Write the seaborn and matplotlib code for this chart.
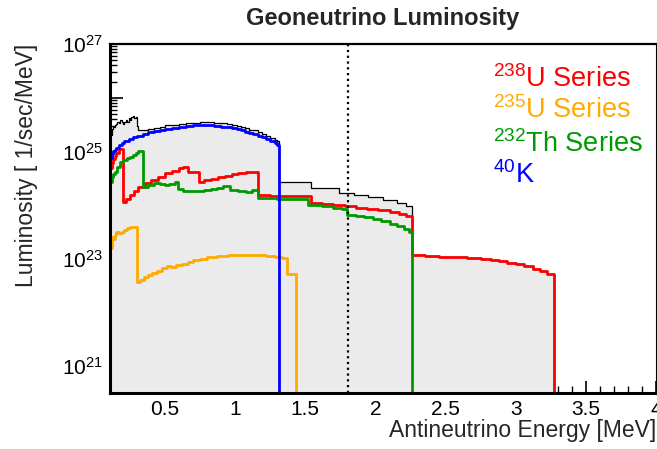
import numpy as np
import pandas as pd
import matplotlib
matplotlib.use('Agg')
import matplotlib.pyplot as plt
from matplotlib.ticker import MultipleLocator, LogLocator, FuncFormatter, NullFormatter
import seaborn as sns

# energies (MeV) are left bin edges, the last entry closes the spectrum
e_u238 = [0.11, 0.12, 0.13, 0.14, 0.15, 0.17, 0.20, 0.22, 0.25, 0.28, 0.31, 0.36, 0.40, 0.45,
          0.50, 0.55, 0.60, 0.63, 0.66, 0.74, 0.78, 0.83, 0.88, 0.93, 0.98, 1.02, 1.08, 1.12,
          1.16, 1.25, 1.35, 1.45, 1.54, 1.62, 1.70, 1.78, 1.86, 1.94, 2.02, 2.10, 2.17, 2.22,
          2.26, 2.35, 2.45, 2.55, 2.65, 2.75, 2.82, 2.88, 2.94, 3.00, 3.06, 3.12, 3.17, 3.22,
          3.27]
l_u238 = [5.0e24, 6.0e24, 7.1e24, 8.2e24, 9.5e24, 1.12e25, 1.15e24, 1.3e24, 1.55e24, 1.85e24,
          2.2e24, 2.6e24, 2.9e24, 3.3e24, 3.9e24, 4.4e24, 4.8e24, 5.1e24, 4.2e24, 2.7e24,
          2.9e24, 3.1e24, 3.3e24, 3.5e24, 3.8e24, 4.0e24, 4.2e24, 4.2e24, 1.55e24, 1.5e24,
          1.48e24, 1.45e24, 1.1e24, 1.05e24, 1.0e24, 9.5e23, 9.0e23, 8.6e23, 8.0e23, 7.4e23,
          6.8e23, 6.3e23, 1.17e23, 1.13e23, 1.1e23, 1.07e23, 1.05e23, 1.0e23, 9.6e22, 9.0e22,
          8.5e22, 7.9e22, 7.2e22, 6.5e22, 5.9e22, 5.2e22, 1e18]

e_u235 = [0.11, 0.12, 0.13, 0.14, 0.15, 0.17, 0.19, 0.21, 0.23, 0.25, 0.30, 0.32, 0.35, 0.38,
          0.41, 0.44, 0.48, 0.51, 0.54, 0.58, 0.62, 0.66, 0.70, 0.75, 0.80, 0.87, 0.95, 1.05,
          1.15, 1.22, 1.28, 1.33, 1.37, 1.43]
l_u235 = [1.6e23, 2.5e23, 2.3e23, 2.8e23, 3.2e23, 3.0e23, 3.1e23, 3.5e23, 3.7e23, 3.9e23,
          3.7e22, 4.0e22, 4.5e22, 5.0e22, 5.5e22, 6.0e22, 6.7e22, 7.4e22, 7.0e22, 7.5e22,
          8.1e22, 8.7e22, 9.3e22, 1.0e23, 1.06e23, 1.12e23, 1.17e23, 1.2e23, 1.18e23, 1.12e23,
          1.07e23, 1.02e23, 5.2e22, 1e18]

e_th232 = [0.11, 0.12, 0.13, 0.14, 0.16, 0.18, 0.20, 0.23, 0.25, 0.27, 0.29, 0.31, 0.343, 0.38,
           0.42, 0.46, 0.50, 0.53, 0.57, 0.59, 0.63, 0.68, 0.73, 0.78, 0.83, 0.87, 0.91, 0.96,
           1.02, 1.08, 1.12, 1.16, 1.30, 1.42, 1.52, 1.62, 1.70, 1.76, 1.80, 1.86, 1.92, 1.98,
           2.04, 2.10, 2.15, 2.20, 2.24, 2.26]
l_th232 = [2.7e24, 3.3e24, 3.8e24, 4.2e24, 5.2e24, 6.3e24, 6.8e24, 7.6e24, 8.0e24, 8.5e24,
           9.2e24, 1.0e25, 2.2e24, 2.4e24, 2.6e24, 2.5e24, 2.4e24, 2.5e24, 2.7e24, 2.0e24,
           1.85e24, 1.8e24, 1.85e24, 1.9e24, 2.0e24, 2.1e24, 2.3e24, 1.9e24, 1.8e24, 1.75e24,
           1.9e24, 1.35e24, 1.32e24, 1.3e24, 1.0e24, 9.5e23, 8.7e23, 8.3e23, 6.6e23, 6.2e23,
           5.9e23, 5.5e23, 5.0e23, 4.5e23, 4.0e23, 3.6e23, 3.2e23, 1e18]

e_k40 = [0.11, 0.12, 0.13, 0.14, 0.15, 0.17, 0.19, 0.21, 0.24, 0.27, 0.30, 0.34, 0.38, 0.42,
         0.46, 0.50, 0.55, 0.60, 0.65, 0.70, 0.75, 0.80, 0.85, 0.90, 0.94, 0.98, 1.01, 1.04,
         1.07, 1.10, 1.13, 1.16, 1.19, 1.22, 1.25, 1.28, 1.30, 1.31]
l_k40 = [7.6e24, 8.9e24, 1.0e25, 1.08e25, 1.15e25, 1.3e25, 1.45e25, 1.55e25, 1.7e25, 1.85e25,
         1.95e25, 2.1e25, 2.25e25, 2.4e25, 2.5e25, 2.65e25, 2.75e25, 2.85e25, 2.95e25, 3.05e25,
         3.1e25, 3.1e25, 3.0e25, 2.9e25, 2.8e25, 2.7e25, 2.6e25, 2.45e25, 2.3e25, 2.2e25,
         2.1e25, 1.95e25, 1.85e25, 1.7e25, 1.55e25, 1.42e25, 1.3e25, 1e18]

e_total = [0.11, 0.12, 0.13, 0.14, 0.15, 0.16, 0.17, 0.18, 0.19, 0.20, 0.21, 0.22, 0.23, 0.24,
           0.25, 0.26, 0.27, 0.28, 0.29, 0.30, 0.31, 0.34, 0.38, 0.42, 0.46, 0.50, 0.55, 0.60,
           0.65, 0.70, 0.75, 0.80, 0.85, 0.90, 0.94, 0.98, 1.01, 1.04, 1.07, 1.10, 1.13, 1.16,
           1.19, 1.22, 1.25, 1.28, 1.30, 1.31, 1.54, 1.74, 1.85, 1.95, 2.05, 2.15, 2.22, 2.26,
           2.35, 2.45, 2.55, 2.65, 2.75, 2.82, 2.88, 2.94, 3.00, 3.06, 3.12, 3.17, 3.22, 3.27]
l_total = [2.0e25, 2.6e25, 2.9e25, 3.1e25, 3.3e25, 3.5e25, 3.4e25, 3.8e25, 3.6e25, 3.3e25,
           3.6e25, 3.9e25, 3.6e25, 4.2e25, 3.9e25, 4.3e25, 4.5e25, 4.2e25, 4.4e25, 3.0e25,
           2.5e25, 2.5e25, 2.6e25, 2.75e25, 2.9e25, 3.05e25, 3.15e25, 3.25e25, 3.35e25, 3.45e25,
           3.5e25, 3.5e25, 3.45e25, 3.35e25, 3.25e25, 3.1e25, 3.0e25, 2.85e25, 2.7e25, 2.55e25,
           2.45e25, 2.25e25, 2.1e25, 1.95e25, 1.8e25, 1.65e25, 1.55e25, 2.7e24, 2.1e24, 1.7e24,
           1.55e24, 1.4e24, 1.25e24, 1.1e24, 9.5e23, 1.17e23, 1.13e23, 1.1e23, 1.07e23, 1.05e23,
           1.0e23, 9.6e22, 9.0e22, 8.5e22, 7.9e22, 7.2e22, 6.5e22, 5.9e22, 5.2e22, 1e18]

series = [('$^{238}$U Series', e_u238, l_u238, '#ff0000'),
          ('$^{235}$U Series', e_u235, l_u235, '#ffaa00'),
          ('$^{232}$Th Series', e_th232, l_th232, '#009a00'),
          ('$^{40}$K', e_k40, l_k40, '#0000ff')]

ibd_threshold = 1.806
y_range = (10 ** 20.5, 1e27)

sns.set_style('ticks')
plt.rcParams['font.family'] = ['Liberation Sans', 'DejaVu Sans']
plt.rcParams['mathtext.fontset'] = 'custom'
plt.rcParams['mathtext.rm'] = 'Liberation Sans'
plt.rcParams['mathtext.it'] = 'Liberation Sans:italic'
plt.rcParams['mathtext.bf'] = 'Liberation Sans:bold'

fig = plt.figure(figsize=(6.57, 4.49), dpi=100)
ax = fig.add_axes([110 / 657, 1 - 393 / 449, 546 / 657, 349 / 449])

ax.fill_between(e_total, l_total, 1e18, step='post', color='#ebebeb', linewidth=0)
sns.lineplot(x=e_total, y=l_total, ax=ax, color='black', linewidth=0.9,
             drawstyle='steps-post', sort=False, estimator=None)
for name, e, l, c in series:
    sns.lineplot(x=e, y=l, ax=ax, color=c, linewidth=2.0,
                 drawstyle='steps-post', sort=False, estimator=None)

ax.axvline(ibd_threshold, color='black', linestyle=(0, (1, 1.6)), linewidth=1.6)

ax.set_yscale('log')
ax.set_xlim(0.107, 4.0)
ax.set_ylim(*y_range)

ax.xaxis.set_major_locator(MultipleLocator(0.5))
ax.xaxis.set_minor_locator(MultipleLocator(0.1))
ax.xaxis.set_major_formatter(FuncFormatter(lambda v, p: '%g' % v))
ax.yaxis.set_major_locator(LogLocator(base=10, numticks=20))
ax.yaxis.set_minor_locator(LogLocator(base=10, subs=np.arange(2, 10), numticks=20))
ax.yaxis.set_minor_formatter(NullFormatter())


def odd_decades(v, p):
    # only every second decade gets a label, and only inside the view
    if v < y_range[0] or v > y_range[1] * 1.01:
        return ''
    ex = int(round(np.log10(v)))
    if ex % 2 == 1:
        return r'$\mathdefault{10^{%d}}$' % ex
    return ''


ax.yaxis.set_major_formatter(FuncFormatter(odd_decades))

ax.tick_params(which='both', direction='in', top=False, right=False, colors='black',
               labelsize=15)
ax.tick_params(which='major', length=9, width=1.2, pad=5)
ax.tick_params(which='minor', length=5, width=1.0)

for side, lw in [('left', 2.2), ('bottom', 2.2), ('top', 1.6), ('right', 0.8)]:
    ax.spines[side].set_linewidth(lw)
    ax.spines[side].set_color('black')

ax.set_xlabel('Antineutrino Energy [MeV]', fontsize=16.5, loc='right')
ax.xaxis.set_label_coords(1.0, -0.075)
ax.set_ylabel('Luminosity [ 1/sec/MeV]', fontsize=16.5, loc='top')
ax.yaxis.set_label_coords(-0.132, 1.0)
ax.set_title('Geoneutrino Luminosity', fontsize=17, fontweight='bold', pad=14)

label_y = [0.877, 0.788, 0.691, 0.602]
for (name, e, l, c), yy in zip(series, label_y):
    ax.text(0.701, yy, name, color=c, fontsize=19.5, transform=ax.transAxes,
            ha='left', va='baseline')

fig.savefig('out.png', dpi=100)
